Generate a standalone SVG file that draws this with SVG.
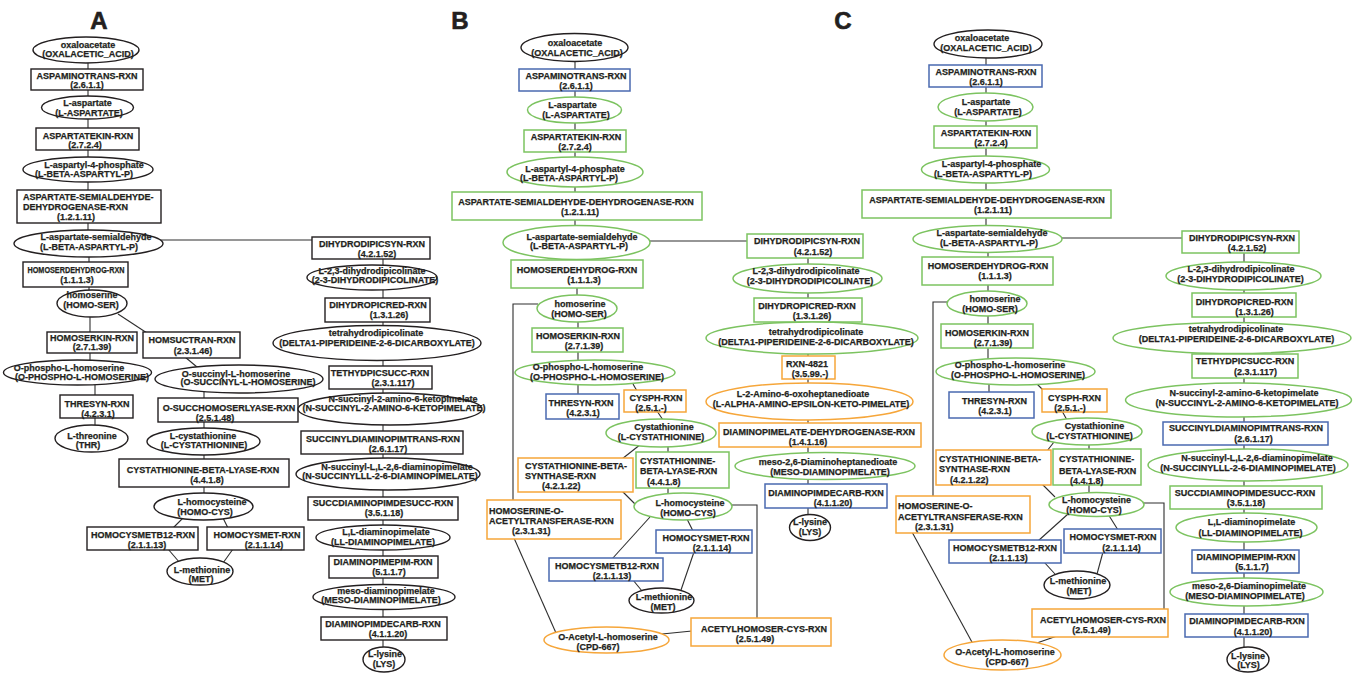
<svg xmlns="http://www.w3.org/2000/svg" width="1353" height="673" viewBox="0 0 1353 673">
<style>
text{font-family:"Liberation Sans",Arial,Helvetica,sans-serif;font-weight:bold;font-size:9px;fill:#231f20;stroke:#231f20;stroke-width:0.25;text-anchor:middle}
text.s{text-anchor:start}
text.lbl{font-size:24px;stroke-width:0.6}
.nk{fill:#fff;stroke:#231f20;stroke-width:1.4}
.ng{fill:#fff;stroke:#7cc360;stroke-width:1.5}
.nb{fill:#fff;stroke:#4a69b0;stroke-width:1.5}
.no{fill:#fff;stroke:#f6a63a;stroke-width:1.5}
#edges line,#edges polyline{stroke:#2e2e2e;stroke-width:1.1;fill:none}
</style>
<rect width="1353" height="673" fill="#fff"/>
<g id="labels">
<text class="lbl" x="99" y="28.5">A</text>
<text class="lbl" x="460" y="28.5">B</text>
<text class="lbl" x="843" y="28.5">C</text>
</g>
<g id="edges">
<line x1="88" y1="50" x2="88" y2="243"/>
<line x1="89" y1="243" x2="89" y2="303"/>
<line x1="90" y1="303" x2="90" y2="372"/>
<line x1="95" y1="372" x2="95" y2="438"/>
<line x1="118" y1="314" x2="147" y2="333"/>
<line x1="185" y1="357" x2="197" y2="367"/>
<line x1="204" y1="379" x2="204" y2="506"/>
<line x1="183" y1="518" x2="173" y2="528"/>
<line x1="223" y1="518" x2="228" y2="528"/>
<line x1="168" y1="549" x2="180" y2="563"/>
<line x1="233" y1="549" x2="223" y2="563"/>
<line x1="160" y1="240" x2="313" y2="240"/>
<line x1="383" y1="248" x2="383" y2="659"/>
<line x1="575" y1="47" x2="575" y2="242"/>
<line x1="577" y1="242" x2="577" y2="308"/>
<line x1="578" y1="308" x2="578" y2="406"/>
<line x1="650" y1="241" x2="748" y2="241"/>
<polyline points="538,304 513,304 513,501"/>
<line x1="633" y1="384" x2="637" y2="391"/>
<line x1="657" y1="411" x2="663" y2="420"/>
<line x1="641" y1="444" x2="622" y2="459"/>
<line x1="622" y1="491" x2="638" y2="507"/>
<line x1="668" y1="433" x2="668" y2="506"/>
<polyline points="730,505 757,505 757,619"/>
<line x1="650" y1="517" x2="612" y2="559"/>
<line x1="687" y1="519" x2="693" y2="531"/>
<line x1="633" y1="580" x2="642" y2="591"/>
<line x1="694" y1="552" x2="681" y2="590"/>
<line x1="514" y1="538" x2="556" y2="633"/>
<line x1="662" y1="634" x2="692" y2="631"/>
<line x1="808" y1="246" x2="808" y2="527"/>
<line x1="986" y1="44" x2="986" y2="239"/>
<line x1="988" y1="239" x2="988" y2="372"/>
<line x1="989" y1="372" x2="989" y2="405"/>
<line x1="1061" y1="238" x2="1183" y2="238"/>
<polyline points="948,302 933,302 933,497"/>
<line x1="1037" y1="384" x2="1043" y2="390"/>
<line x1="1062" y1="411" x2="1067" y2="420"/>
<line x1="1054" y1="442" x2="1047" y2="451"/>
<line x1="1089" y1="431" x2="1089" y2="504"/>
<line x1="1042" y1="484" x2="1055" y2="497"/>
<polyline points="1143,503 1164,503 1164,610"/>
<line x1="1068" y1="514" x2="1038" y2="541"/>
<line x1="1108" y1="514" x2="1118" y2="530"/>
<line x1="1044" y1="562" x2="1055" y2="574"/>
<line x1="1103" y1="552" x2="1097" y2="574"/>
<line x1="912" y1="532" x2="973" y2="644"/>
<line x1="1034" y1="644" x2="1057" y2="636"/>
<line x1="1244" y1="242" x2="1244" y2="659"/>
</g>
<g id="panelA">
<g id="a-oxaloacetate"><ellipse class="nk" cx="86" cy="50" rx="53" ry="13"/><text x="88" y="47.5">oxaloacetate</text><text x="88" y="56.5">(OXALACETIC_ACID)</text></g>
<g id="a-aspaminotrans"><rect class="nk" x="31" y="69" width="112" height="21"/><text x="87" y="79">ASPAMINOTRANS-RXN</text><text x="87" y="88">(2.6.1.1)</text></g>
<g id="a-l-aspartate"><ellipse class="nk" cx="87.5" cy="107.5" rx="46" ry="11.5"/><text x="87.5" y="106">L-aspartate</text><text x="89" y="115.5">(L-ASPARTATE)</text></g>
<g id="a-aspartatekin"><rect class="nk" x="36" y="128" width="103" height="22"/><text x="88" y="138.5">ASPARTATEKIN-RXN</text><text x="85" y="148">(2.7.2.4)</text></g>
<g id="a-aspartyl-p"><ellipse class="nk" cx="88" cy="169.5" rx="65" ry="12.5"/><text x="94" y="167.5">L-aspartyl-4-phosphate</text><text x="84" y="177">(L-BETA-ASPARTYL-P)</text></g>
<g id="a-asd"><rect class="nk" x="17" y="190" width="144" height="33"/><text class="s" x="23" y="200">ASPARTATE-SEMIALDEHYDE-</text><text class="s" x="23" y="210">DEHYDROGENASE-RXN</text><text class="s" x="57" y="220">(1.2.1.11)</text></g>
<g id="a-semialdehyde"><ellipse class="nk" cx="88.5" cy="243.5" rx="74.5" ry="13.5"/><text x="96" y="240">L-aspartate-semialdehyde</text><text x="89" y="250">(L-BETA-ASPARTYL-P)</text></g>
<g id="a-homoserdehydrog"><rect class="nk" x="23" y="262" width="105" height="25"/><text x="76" y="273" textLength="97" lengthAdjust="spacingAndGlyphs">HOMOSERDEHYDROG-RXN</text><text x="77" y="283">(1.1.1.3)</text></g>
<g id="a-homoserine"><ellipse class="nk" cx="92" cy="303.5" rx="35" ry="13.5"/><text x="92" y="298">homoserine</text><text x="91" y="307.5">(HOMO-SER)</text></g>
<g id="a-homoserkin"><rect class="nk" x="47" y="332" width="90" height="21"/><text x="92" y="341">HOMOSERKIN-RXN</text><text x="92" y="350">(2.7.1.39)</text></g>
<g id="a-homsuctran"><rect class="nk" x="143" y="332" width="97" height="26"/><text x="192" y="343">HOMSUCTRAN-RXN</text><text x="193" y="354">(2.3.1.46)</text></g>
<g id="a-o-phospho"><ellipse class="nk" cx="77.5" cy="372.5" rx="74" ry="12.5"/><text x="69" y="371">O-phospho-L-homoserine</text><text x="82" y="380">(O-PHOSPHO-L-HOMOSERINE)</text></g>
<g id="a-o-succinyl"><ellipse class="nk" cx="239" cy="379" rx="84" ry="14"/><text x="236" y="376.5">O-succinyl-L-homoserine</text><text x="248" y="385">(O-SUCCINYL-L-HOMOSERINE)</text></g>
<g id="a-thresyn"><rect class="nk" x="60" y="395" width="73" height="23"/><text x="97" y="406.5">THRESYN-RXN</text><text x="98" y="416.5">(4.2.3.1)</text></g>
<g id="a-osucchomoserlyase"><rect class="nk" x="158" y="398" width="140" height="24"/><text x="229" y="411">O-SUCCHOMOSERLYASE-RXN</text><text x="215" y="421">(2.5.1.48)</text></g>
<g id="a-threonine"><ellipse class="nk" cx="91.5" cy="438.5" rx="36.5" ry="13.5"/><text x="92" y="438.5">L-threonine</text><text x="88" y="448">(THR)</text></g>
<g id="a-cystathionine"><ellipse class="nk" cx="203.5" cy="441.5" rx="56.5" ry="13.5"/><text x="203" y="439">L-cystathionine</text><text x="204" y="448">(L-CYSTATHIONINE)</text></g>
<g id="a-cbl"><rect class="nk" x="119" y="459" width="170" height="28"/><text x="203" y="472.5">CYSTATHIONINE-BETA-LYASE-RXN</text><text x="207" y="482.5">(4.4.1.8)</text></g>
<g id="a-homocysteine"><ellipse class="nk" cx="203.5" cy="506.5" rx="49.5" ry="13.5"/><text x="212" y="505">L-homocysteine</text><text x="205" y="515">(HOMO-CYS)</text></g>
<g id="a-homocysmetb12"><rect class="nk" x="87" y="527" width="111" height="23"/><text x="143" y="538.3">HOMOCYSMETB12-RXN</text><text x="147" y="548">(2.1.1.13)</text></g>
<g id="a-homocysmet"><rect class="nk" x="207" y="527" width="97" height="23"/><text x="257" y="538.3">HOMOCYSMET-RXN</text><text x="264" y="548">(2.1.1.14)</text></g>
<g id="a-methionine"><ellipse class="nk" cx="200" cy="571.5" rx="33" ry="13.5"/><text x="202" y="572.5">L-methionine</text><text x="201" y="581.5">(MET)</text></g>
<g id="a-dhdps"><rect class="nk" x="312" y="237" width="118" height="22"/><text x="372" y="246.5">DIHYDRODIPICSYN-RXN</text><text x="377" y="256.5">(4.2.1.52)</text></g>
<g id="a-dhdp"><ellipse class="nk" cx="372" cy="277.5" rx="65" ry="12.5"/><text x="372" y="274">L-2,3-dihydrodipicolinate</text><text x="375" y="283">(2-3-DIHYDRODIPICOLINATE)</text></g>
<g id="a-dhdpr"><rect class="nk" x="325" y="298" width="105" height="24"/><text x="378" y="308">DIHYDROPICRED-RXN</text><text x="389" y="318">(1.3.1.26)</text></g>
<g id="a-thdp"><ellipse class="nk" cx="377" cy="343" rx="104" ry="17.5"/><text x="376" y="336">tetrahydrodipicolinate</text><text x="377" y="345.5">(DELTA1-PIPERIDEINE-2-6-DICARBOXYLATE)</text></g>
<g id="a-thdps"><rect class="nk" x="329" y="366" width="103" height="23"/><text x="380" y="375.5">TETHYDPICSUCC-RXN</text><text x="393" y="385.5">(2.3.1.117)</text></g>
<g id="a-nsak"><ellipse class="nk" cx="390" cy="409" rx="92" ry="16"/><text x="403" y="401.5">N-succinyl-2-amino-6-ketopimelate</text><text x="394" y="410.5">(N-SUCCINYL-2-AMINO-6-KETOPIMELATE)</text></g>
<g id="a-sdt"><rect class="nk" x="301" y="431" width="162" height="23"/><text x="383" y="442">SUCCINYLDIAMINOPIMTRANS-RXN</text><text x="388" y="451.5">(2.6.1.17)</text></g>
<g id="a-nsdap"><ellipse class="nk" cx="388" cy="474" rx="92" ry="16"/><text x="397" y="470">N-succinyl-L,L-2,6-diaminopimelate</text><text x="390" y="479">(N-SUCCINYLLL-2-6-DIAMINOPIMELATE)</text></g>
<g id="a-sdd"><rect class="nk" x="308" y="497" width="150" height="23"/><text x="383" y="506">SUCCDIAMINOPIMDESUCC-RXN</text><text x="384" y="516">(3.5.1.18)</text></g>
<g id="a-lldap"><ellipse class="nk" cx="383" cy="537.5" rx="67" ry="12.5"/><text x="386" y="535">L,L-diaminopimelate</text><text x="383" y="545">(LL-DIAMINOPIMELATE)</text></g>
<g id="a-dape"><rect class="nk" x="329" y="556" width="109" height="22"/><text x="383" y="565">DIAMINOPIMEPIM-RXN</text><text x="389" y="575">(5.1.1.7)</text></g>
<g id="a-mdap"><ellipse class="nk" cx="384" cy="597" rx="71" ry="12.5"/><text x="386" y="594">meso-diaminopimelate</text><text x="381" y="603">(MESO-DIAMINOPIMELATE)</text></g>
<g id="a-dapdc"><rect class="nk" x="321" y="617" width="126" height="23"/><text x="383" y="626.5">DIAMINOPIMDECARB-RXN</text><text x="388" y="636.5">(4.1.1.20)</text></g>
<g id="a-lysine"><ellipse class="nk" cx="384" cy="659.5" rx="21" ry="12.5"/><text x="385" y="657">L-lysine</text><text x="384" y="666.5">(LYS)</text></g>
</g>
<g id="panelB">
<g id="b-oxaloacetate"><ellipse class="nk" cx="574.5" cy="47.5" rx="53.5" ry="14"/><text x="575" y="45.5">oxaloacetate</text><text x="577" y="55.5">(OXALACETIC_ACID)</text></g>
<g id="b-aspaminotrans"><rect class="nb" x="519" y="69" width="111" height="22"/><text x="576" y="79">ASPAMINOTRANS-RXN</text><text x="576" y="89">(2.6.1.1)</text></g>
<g id="b-l-aspartate"><ellipse class="ng" cx="574.5" cy="110" rx="47" ry="13"/><text x="572.5" y="107.5">L-aspartate</text><text x="576" y="117.5">(L-ASPARTATE)</text></g>
<g id="b-aspartatekin"><rect class="ng" x="524" y="130" width="102" height="22"/><text x="576" y="140">ASPARTATEKIN-RXN</text><text x="575" y="150">(2.7.2.4)</text></g>
<g id="b-aspartyl-p"><ellipse class="ng" cx="575" cy="172" rx="68" ry="15"/><text x="575" y="171.5">L-aspartyl-4-phosphate</text><text x="569" y="181">(L-BETA-ASPARTYL-P)</text></g>
<g id="b-asd"><rect class="ng" x="452" y="192" width="250" height="28"/><text x="576" y="205">ASPARTATE-SEMIALDEHYDE-DEHYDROGENASE-RXN</text><text x="580" y="215">(1.2.1.11)</text></g>
<g id="b-semialdehyde"><ellipse class="ng" cx="576.5" cy="242.5" rx="73.5" ry="17"/><text x="582" y="239.5">L-aspartate-semialdehyde</text><text x="579" y="249">(L-BETA-ASPARTYL-P)</text></g>
<g id="b-homoserdehydrog"><rect class="ng" x="511" y="260" width="132" height="28"/><text x="577" y="273">HOMOSERDEHYDROG-RXN</text><text x="584" y="283">(1.1.1.3)</text></g>
<g id="b-homoserine"><ellipse class="ng" cx="577" cy="308.5" rx="40" ry="13.5"/><text x="580" y="306.5">homoserine</text><text x="579" y="316.5">(HOMO-SER)</text></g>
<g id="b-homoserkin"><rect class="ng" x="532" y="328" width="91" height="24"/><text x="578" y="339">HOMOSERKIN-RXN</text><text x="584" y="349">(2.7.1.39)</text></g>
<g id="b-o-phospho"><ellipse class="ng" cx="595" cy="372.5" rx="80" ry="12.5"/><text x="588" y="370">O-phospho-L-homoserine</text><text x="597" y="379.5">(O-PHOSPHO-L-HOMOSERINE)</text></g>
<g id="b-thresyn"><rect class="nb" x="546" y="394" width="73" height="25"/><text x="581" y="406">THRESYN-RXN</text><text x="583" y="416">(4.2.3.1)</text></g>
<g id="b-cysph"><rect class="no" x="624" y="390" width="62" height="22"/><text x="656" y="400.5">CYSPH-RXN</text><text x="651" y="410.5">(2.5.1.-)</text></g>
<g id="b-cystathionine"><ellipse class="ng" cx="661" cy="433" rx="55" ry="14"/><text x="664" y="429.5">Cystathionine</text><text x="661" y="439.5">(L-CYSTATHIONINE)</text></g>
<g id="b-cbs"><rect class="no" x="518" y="458" width="115" height="34"/><text class="s" x="525" y="468.5">CYSTATHIONINE-BETA-</text><text class="s" x="525" y="478.5">SYNTHASE-RXN</text><text class="s" x="542" y="488.5">(4.2.1.22)</text></g>
<g id="b-cbl"><rect class="ng" x="636" y="452" width="93" height="36"/><text class="s" x="640" y="463.5">CYSTATHIONINE-</text><text class="s" x="640" y="474">BETA-LYASE-RXN</text><text class="s" x="647" y="484.5">(4.4.1.8)</text></g>
<g id="b-homocysteine"><ellipse class="ng" cx="683" cy="506.5" rx="49" ry="13.5"/><text x="690" y="505.5">L-homocysteine</text><text x="688" y="515.5">(HOMO-CYS)</text></g>
<g id="b-hsat"><rect class="no" x="487" y="500" width="134" height="39"/><text class="s" x="489" y="513.5">HOMOSERINE-O-</text><text class="s" x="489" y="523.5">ACETYLTRANSFERASE-RXN</text><text class="s" x="512" y="533.5">(2.3.1.31)</text></g>
<g id="b-homocysmet"><rect class="nb" x="656" y="530" width="96" height="23"/><text x="706" y="540.5">HOMOCYSMET-RXN</text><text x="712" y="550.5">(2.1.1.14)</text></g>
<g id="b-homocysmetb12"><rect class="nb" x="549" y="558" width="114" height="23"/><text x="607" y="569">HOMOCYSMETB12-RXN</text><text x="612" y="579">(2.1.1.13)</text></g>
<g id="b-methionine"><ellipse class="nk" cx="661.5" cy="600.5" rx="32.5" ry="12.5"/><text x="664" y="600">L-methionine</text><text x="663" y="610">(MET)</text></g>
<g id="b-oacetyl"><ellipse class="no" cx="606.5" cy="640" rx="62.5" ry="13"/><text x="608" y="640">O-Acetyl-L-homoserine</text><text x="598" y="650">(CPD-667)</text></g>
<g id="b-acetylhomoser"><rect class="no" x="691" y="618" width="140" height="28"/><text x="764" y="631.5">ACETYLHOMOSER-CYS-RXN</text><text x="755" y="641.5">(2.5.1.49)</text></g>
<g id="b-dhdps"><rect class="ng" x="747" y="234" width="116" height="24"/><text x="807" y="244">DIHYDRODIPICSYN-RXN</text><text x="813" y="254.5">(4.2.1.52)</text></g>
<g id="b-dhdp"><ellipse class="ng" cx="807.5" cy="278.5" rx="74.5" ry="14.5"/><text x="806" y="274">L-2,3-dihydrodipicolinate</text><text x="810" y="284">(2-3-DIHYDRODIPICOLINATE)</text></g>
<g id="b-dhdpr"><rect class="ng" x="754" y="298" width="108" height="24"/><text x="807" y="308.5">DIHYDROPICRED-RXN</text><text x="812" y="318.5">(1.3.1.26)</text></g>
<g id="b-thdp"><ellipse class="ng" cx="812" cy="338" rx="106" ry="16"/><text x="816" y="335">tetrahydrodipicolinate</text><text x="816" y="345">(DELTA1-PIPERIDEINE-2-6-DICARBOXYLATE)</text></g>
<g id="b-rxn4821"><rect class="no" x="782" y="356" width="53" height="23"/><text x="807" y="366.5">RXN-4821</text><text x="810" y="376.5">(3.5.99.-)</text></g>
<g id="b-l2amino"><ellipse class="no" cx="809.5" cy="401.5" rx="103.5" ry="18.5"/><text x="803" y="396.5">L-2-Amino-6-oxoheptanedioate</text><text x="811" y="406.5">(L-ALPHA-AMINO-EPSILON-KETO-PIMELATE)</text></g>
<g id="b-dapdh"><rect class="no" x="719" y="423" width="202" height="24"/><text x="819" y="435">DIAMINOPIMELATE-DEHYDROGENASE-RXN</text><text x="808" y="445">(1.4.1.16)</text></g>
<g id="b-mdap"><ellipse class="ng" cx="825" cy="466" rx="90" ry="13.5"/><text x="828" y="464.5">meso-2,6-Diaminoheptanedioate</text><text x="830" y="474.5">(MESO-DIAMINOPIMELATE)</text></g>
<g id="b-dapdc"><rect class="nb" x="765" y="484" width="122" height="24"/><text x="826" y="496">DIAMINOPIMDECARB-RXN</text><text x="833" y="506">(4.1.1.20)</text></g>
<g id="b-lysine"><ellipse class="nk" cx="810" cy="527.5" rx="20.5" ry="13"/><text x="810" y="525">L-lysine</text><text x="810" y="535">(LYS)</text></g>
</g>
<g id="panelC">
<g id="c-oxaloacetate"><ellipse class="nk" cx="988" cy="44" rx="54" ry="14"/><text x="982" y="41">oxaloacetate</text><text x="986" y="51">(OXALACETIC_ACID)</text></g>
<g id="c-aspaminotrans"><rect class="nb" x="929" y="65" width="113" height="22"/><text x="986" y="74.5">ASPAMINOTRANS-RXN</text><text x="986" y="84.5">(2.6.1.1)</text></g>
<g id="c-l-aspartate"><ellipse class="ng" cx="985.5" cy="107" rx="47.5" ry="14"/><text x="986" y="105">L-aspartate</text><text x="988" y="115">(L-ASPARTATE)</text></g>
<g id="c-aspartatekin"><rect class="ng" x="934" y="126" width="103" height="22"/><text x="986" y="136">ASPARTATEKIN-RXN</text><text x="991" y="146">(2.7.2.4)</text></g>
<g id="c-aspartyl-p"><ellipse class="ng" cx="985.5" cy="169.5" rx="64" ry="13.5"/><text x="991.5" y="166.5">L-aspartyl-4-phosphate</text><text x="983" y="176.5">(L-BETA-ASPARTYL-P)</text></g>
<g id="c-asd"><rect class="ng" x="862" y="190" width="249" height="28"/><text x="987" y="202.5">ASPARTATE-SEMIALDEHYDE-DEHYDROGENASE-RXN</text><text x="993" y="212.5">(1.2.1.11)</text></g>
<g id="c-semialdehyde"><ellipse class="ng" cx="987.5" cy="239" rx="74.5" ry="13.5"/><text x="992" y="235.5">L-aspartate-semialdehyde</text><text x="989" y="245.5">(L-BETA-ASPARTYL-P)</text></g>
<g id="c-homoserdehydrog"><rect class="ng" x="922" y="257" width="131" height="28"/><text x="988" y="269">HOMOSERDEHYDROG-RXN</text><text x="995" y="279">(1.1.1.3)</text></g>
<g id="c-homoserine"><ellipse class="ng" cx="987" cy="303.5" rx="40" ry="12.5"/><text x="995" y="302">homoserine</text><text x="990" y="312">(HOMO-SER)</text></g>
<g id="c-homoserkin"><rect class="ng" x="941" y="324" width="92" height="24"/><text x="987" y="335.5">HOMOSERKIN-RXN</text><text x="993" y="345.5">(2.7.1.39)</text></g>
<g id="c-o-phospho"><ellipse class="ng" cx="1015.5" cy="371.5" rx="79.5" ry="13.5"/><text x="1010" y="367.5">O-phospho-L-homoserine</text><text x="1018" y="377.5">(O-PHOSPHO-L-HOMOSERINE)</text></g>
<g id="c-thresyn"><rect class="nb" x="949" y="392" width="85" height="26"/><text x="994.5" y="403.5">THRESYN-RXN</text><text x="995" y="413.5">(4.2.3.1)</text></g>
<g id="c-cysph"><rect class="no" x="1042" y="389" width="65" height="23"/><text x="1074.5" y="400.5">CYSPH-RXN</text><text x="1070" y="410.5">(2.5.1.-)</text></g>
<g id="c-cystathionine"><ellipse class="ng" cx="1087" cy="431.5" rx="55" ry="13.5"/><text x="1094.5" y="429">Cystathionine</text><text x="1089.5" y="439">(L-CYSTATHIONINE)</text></g>
<g id="c-cbs"><rect class="no" x="936" y="450" width="115" height="35"/><text class="s" x="939" y="461.5">CYSTATHIONINE-BETA-</text><text class="s" x="939" y="472">SYNTHASE-RXN</text><text class="s" x="950" y="482.5">(4.2.1.22)</text></g>
<g id="c-cbl"><rect class="ng" x="1053" y="449" width="88" height="36"/><text class="s" x="1059" y="461.5">CYSTATHIONINE-</text><text class="s" x="1059" y="473.5">BETA-LYASE-RXN</text><text class="s" x="1070" y="483.5">(4.4.1.8)</text></g>
<g id="c-homocysteine"><ellipse class="ng" cx="1096.5" cy="504.5" rx="47.5" ry="12"/><text x="1096.5" y="502.5">L-homocysteine</text><text x="1094" y="513">(HOMO-CYS)</text></g>
<g id="c-hsat"><rect class="no" x="896" y="496" width="134" height="37"/><text class="s" x="898" y="508.5">HOMOSERINE-O-</text><text class="s" x="898" y="519.5">ACETYLTRANSFERASE-RXN</text><text class="s" x="915" y="529.5">(2.3.1.31)</text></g>
<g id="c-homocysmet"><rect class="nb" x="1064" y="529" width="97" height="24"/><text x="1113" y="540">HOMOCYSMET-RXN</text><text x="1121.5" y="550.5">(2.1.1.14)</text></g>
<g id="c-homocysmetb12"><rect class="nb" x="949" y="540" width="112" height="23"/><text x="1005" y="550.5">HOMOCYSMETB12-RXN</text><text x="1008.5" y="560.5">(2.1.1.13)</text></g>
<g id="c-methionine"><ellipse class="nk" cx="1077" cy="585" rx="33" ry="14"/><text x="1078" y="584">L-methionine</text><text x="1079" y="594">(MET)</text></g>
<g id="c-acetylhomoser"><rect class="no" x="1032" y="609" width="136" height="28"/><text x="1103" y="622.5">ACETYLHOMOSER-CYS-RXN</text><text x="1091.5" y="632.5">(2.5.1.49)</text></g>
<g id="c-oacetyl"><ellipse class="no" cx="1002.5" cy="655" rx="58.5" ry="15"/><text x="1005" y="655">O-Acetyl-L-homoserine</text><text x="1007" y="665">(CPD-667)</text></g>
<g id="c-dhdps"><rect class="ng" x="1182" y="231" width="117" height="22"/><text x="1242" y="241">DIHYDRODIPICSYN-RXN</text><text x="1247" y="251">(4.2.1.52)</text></g>
<g id="c-dhdp"><ellipse class="ng" cx="1243.5" cy="276" rx="77.5" ry="14"/><text x="1241" y="271.5">L-2,3-dihydrodipicolinate</text><text x="1240.5" y="281.5">(2-3-DIHYDRODIPICOLINATE)</text></g>
<g id="c-dhdpr"><rect class="ng" x="1192" y="293" width="104" height="24"/><text x="1244.5" y="304.5">DIHYDROPICRED-RXN</text><text x="1254.5" y="314.5">(1.3.1.26)</text></g>
<g id="c-thdp"><ellipse class="ng" cx="1232" cy="338" rx="119" ry="15.5"/><text x="1236" y="331.5">tetrahydrodipicolinate</text><text x="1236.5" y="341.5">(DELTA1-PIPERIDEINE-2-6-DICARBOXYLATE)</text></g>
<g id="c-thdps"><rect class="ng" x="1192" y="354" width="106" height="24"/><text x="1245" y="364">TETHYDPICSUCC-RXN</text><text x="1255.5" y="374.5">(2.3.1.117)</text></g>
<g id="c-nsak"><ellipse class="ng" cx="1238.5" cy="400" rx="113" ry="17"/><text x="1244" y="395.5">N-succinyl-2-amino-6-ketopimelate</text><text x="1247" y="405.5">(N-SUCCINYL-2-AMINO-6-KETOPIMELATE)</text></g>
<g id="c-sdt"><rect class="nb" x="1163" y="422" width="165" height="23"/><text x="1246" y="431">SUCCINYLDIAMINOPIMTRANS-RXN</text><text x="1253.5" y="441.5">(2.6.1.17)</text></g>
<g id="c-nsdap"><ellipse class="ng" cx="1248" cy="465" rx="100" ry="16"/><text x="1257" y="461">N-succinyl-L,L-2,6-diaminopimelate</text><text x="1248" y="471">(N-SUCCINYLLL-2-6-DIAMINOPIMELATE)</text></g>
<g id="c-sdd"><rect class="ng" x="1170" y="486" width="152" height="23"/><text x="1245" y="496">SUCCDIAMINOPIMDESUCC-RXN</text><text x="1246" y="506">(3.5.1.18)</text></g>
<g id="c-lldap"><ellipse class="ng" cx="1246.5" cy="527.5" rx="70.5" ry="14.5"/><text x="1251.5" y="525">L,L-diaminopimelate</text><text x="1250.5" y="535.5">(LL-DIAMINOPIMELATE)</text></g>
<g id="c-dape"><rect class="nb" x="1192" y="550" width="107" height="23"/><text x="1246" y="560">DIAMINOPIMEPIM-RXN</text><text x="1252" y="570">(5.1.1.7)</text></g>
<g id="c-mdap"><ellipse class="ng" cx="1246.5" cy="592" rx="76.5" ry="14"/><text x="1249" y="589">meso-2,6-Diaminopimelate</text><text x="1245" y="599">(MESO-DIAMINOPIMELATE)</text></g>
<g id="c-dapdc"><rect class="nb" x="1185" y="614" width="123" height="23"/><text x="1247" y="624">DIAMINOPIMDECARB-RXN</text><text x="1253" y="634.5">(4.1.1.20)</text></g>
<g id="c-lysine"><ellipse class="nk" cx="1248" cy="659.5" rx="21" ry="12.5"/><text x="1248" y="658.5">L-lysine</text><text x="1248.5" y="668">(LYS)</text></g>
</g>
</svg>
